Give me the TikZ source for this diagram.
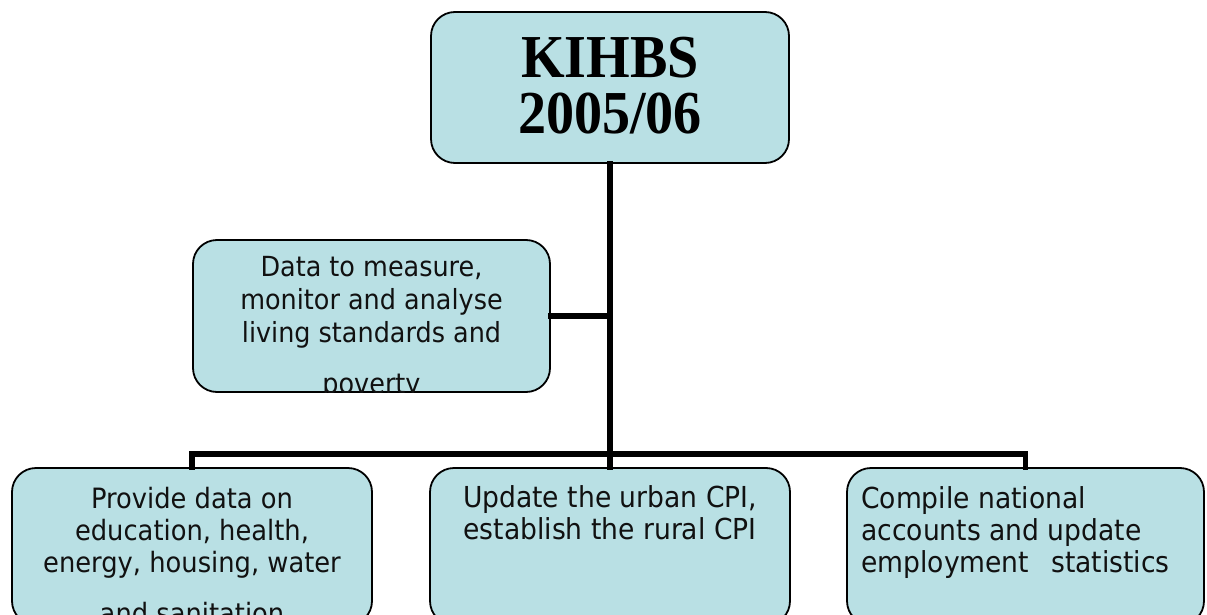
\documentclass[tikz,border=0pt]{standalone}
\usepackage{fontspec}
\newfontfamily\tahfont[FakeStretch=0.92]{DejaVu Sans}
\newfontfamily\tmsfont[FakeStretch=0.92]{Liberation Serif}
\definecolor{boxblue}{RGB}{185,224,228}
\definecolor{txtcol}{RGB}{17,17,17}
\tikzset{
  box/.style={draw=black, line width=1.8pt, fill=boxblue, rounded corners=24pt,
    rectangle, inner sep=0pt},
  conn/.style={draw=black, line width=5.5pt, line join=miter, line cap=rect},
  ln/.style={inner sep=0pt, anchor=base, text=txtcol},
  lnl/.style={inner sep=0pt, anchor=base west, text=txtcol},
  fmid/.style={font=\tahfont\fontsize{27.7}{34}\selectfont},
  fbot/.style={font=\tahfont\fontsize{28}{34}\selectfont},
  fbig/.style={font=\tahfont\fontsize{28.9}{34}\selectfont},
  ftop/.style={inner sep=0pt, anchor=base, text=black,
    font=\tmsfont\bfseries\fontsize{61}{55}\selectfont},
}
\begin{document}
\begin{tikzpicture}[x=1pt,y=1pt]
\useasboundingbox (0,0) rectangle (1207,-615);
\clip (0,0) rectangle (1207,-615);
\fill[white] (0,0) rectangle (1207,-615);

% boxes
\node[box, minimum width=358pt, minimum height=151pt] (top) at (610,-87.5) {};
\node[box, minimum width=357pt, minimum height=152pt] (mid) at (371.5,-316) {};
\node[box, minimum width=360pt, minimum height=157pt] (lb) at (192,-546.5) {};
\node[box, minimum width=360pt, minimum height=157pt] (mb) at (610,-546.5) {};
\node[box, minimum width=357pt, minimum height=157pt] (rb) at (1025.5,-546.5) {};

% connectors
\coordinate (bar) at (610,-454);
\draw[conn] (top.south) -- (mb.north);
\draw[conn] (mid.east) -- (mid.east -| top.south);
\draw[conn] (lb.north) |- (bar) -| (rb.north);

% texts
\node[ftop] (t1) at (610,-78) {KIHBS};
\node[ftop] (t2) at (610,-134) {2005/06};

\begin{scope}
\clip[rounded corners=24pt] (mid.north west) rectangle (mid.south east);
\node[ln, fmid] (m1) at (371.5,-276) {Data to measure,};
\node[ln, fmid] (m2) at (371.5,-309) {monitor and analyse};
\node[ln, fmid] (m3) at (371.5,-342) {living standards and};
\node[ln, fmid] (m4) at (371.5,-393) {poverty};
\end{scope}

\begin{scope}
\clip[rounded corners=24pt] (lb.north west) rectangle (lb.south east);
\node[ln, fbot] (l1) at (192,-508) {Provide data on};
\node[ln, fbot] (l2) at (192,-540) {education, health,};
\node[ln, fbot] (l3) at (192,-572) {energy, housing, water};
\node[ln, fbot] (l4) at (192,-623) {and sanitation};
\end{scope}

\node[ln, fbig] (c1) at (610,-507) {Update the urban CPI,};
\node[ln, fbig] (c2) at (610,-539) {establish the rural CPI};

\node[lnl, fbig] (r1) at (861,-508) {Compile national};
\node[lnl, fbig] (r2) at (861,-540) {accounts and update};
\node[lnl, fbig] (r3) at (861,-572) {employment\hspace{22pt}statistics};
\end{tikzpicture}
\end{document}
